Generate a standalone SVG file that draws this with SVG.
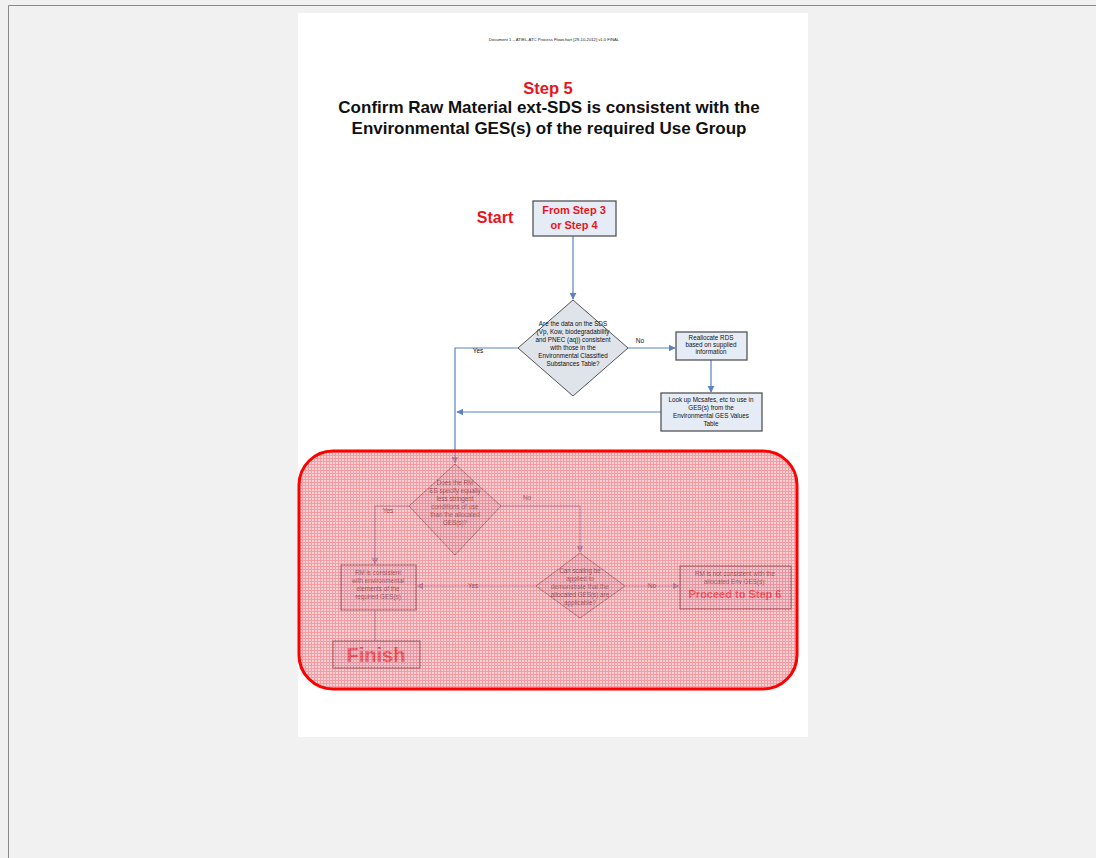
<svg xmlns="http://www.w3.org/2000/svg" width="1096" height="858" viewBox="0 0 1096 858">
<defs>
<style>
.t{font-family:"Liberation Sans",Arial,sans-serif;}
.sm{font-family:"Liberation Sans",Arial,sans-serif;font-size:6.3px;fill:#111;text-anchor:middle;}
.red{fill:#e8141e;font-weight:bold;text-anchor:middle;font-family:"Liberation Sans",Arial,sans-serif;}
.box{fill:#e6ecf5;stroke:#555;stroke-width:1.3;}
.dia{fill:#dfe3ea;stroke:#555;stroke-width:1;}
.con{fill:none;stroke:#5b82c0;stroke-width:1.2;}
.lbl{font-family:"Liberation Sans",Arial,sans-serif;font-size:6.5px;fill:#111;text-anchor:middle;}
</style>
<marker id="arr" viewBox="0 0 10 10" refX="9" refY="5" markerWidth="6" markerHeight="6" orient="auto-start-reverse">
<path d="M0,0 L10,5 L0,10 z" fill="#5b82c0"/>
</marker>
<pattern id="hatch" width="3" height="3" patternUnits="userSpaceOnUse">
<rect width="3" height="3" fill="#ee5a66"/>
<rect width="2" height="2" fill="#f7b4b9"/>
</pattern>
</defs>
<rect x="0" y="0" width="1096" height="858" fill="#f1f1f1"/>
<line x1="8.5" y1="5.5" x2="1096" y2="5.5" stroke="#8a8a8a" stroke-width="1"/>
<line x1="8.5" y1="5.5" x2="8.5" y2="858" stroke="#8a8a8a" stroke-width="1"/>
<rect x="298" y="13" width="510" height="724" fill="#ffffff"/>

<g id="header">
<text x="554" y="41" class="t" font-size="4.2" text-anchor="middle" fill="#222">Document 1 – ATIEL-ATC Process Flowchart [29-10-2012] v1.0 FINAL</text>
<text x="548" y="94" class="red" font-size="16.5">Step 5</text>
<text x="549" y="113" class="t" font-size="17" font-weight="bold" text-anchor="middle" fill="#111">Confirm Raw Material ext-SDS is consistent with the</text>
<text x="549" y="134" class="t" font-size="17" font-weight="bold" text-anchor="middle" fill="#111">Environmental GES(s) of the required Use Group</text>
</g>

<g id="start-label"><text x="495" y="223" class="red" font-size="16">Start</text></g>

<g id="connectors">
<path class="con" d="M573,236 V299" marker-end="url(#arr)"/>
<path class="con" d="M628,348 H675" marker-end="url(#arr)"/>
<path class="con" d="M711,360 V392" marker-end="url(#arr)"/>
<path class="con" d="M661,412 H457" marker-end="url(#arr)"/>
<path class="con" d="M518,348 H455 V463" marker-end="url(#arr)"/>
<path class="con" d="M501,506 H580 V552" marker-end="url(#arr)"/>
<path class="con" d="M409,506 H375 V564" marker-end="url(#arr)"/>
<path class="con" d="M536,586 H417" marker-end="url(#arr)"/>
<path class="con" d="M625,586 H679" marker-end="url(#arr)"/>
<path class="con" d="M375,610 V641"/>
<text x="640" y="343" class="lbl">No</text>
<text x="478" y="353" class="lbl">Yes</text>
<text x="527" y="500" class="lbl">No</text>
<text x="388" y="513" class="lbl">Yes</text>
<text x="473" y="588" class="lbl">Yes</text>
<text x="652" y="588" class="lbl">No</text>
</g>

<g id="from-step">
<rect class="box" x="533" y="201" width="83" height="35"/>
<text x="574" y="214" class="red" font-size="11">From Step 3</text>
<text x="574" y="229" class="red" font-size="11">or Step 4</text>
</g>

<g id="decision1">
<polygon class="dia" points="573,300 628,348 573,396 518,348"/>
<text class="sm" x="573" y="326">Are the data on the SDS</text>
<text class="sm" x="573" y="334">(Vp, Kow, biodegradability</text>
<text class="sm" x="573" y="342">and PNEC (aq)) consistent</text>
<text class="sm" x="573" y="350">with those in the</text>
<text class="sm" x="573" y="358">Environmental Classified</text>
<text class="sm" x="573" y="366">Substances Table?</text>
</g>

<g id="reallocate">
<rect class="box" x="676" y="332" width="71" height="28"/>
<text class="sm" x="711" y="340">Reallocate RDS</text>
<text class="sm" x="711" y="347">based on supplied</text>
<text class="sm" x="711" y="354">information</text>
</g>

<g id="lookup">
<rect class="box" x="661" y="393" width="101" height="38"/>
<text class="sm" x="711" y="402">Look up Mcsafes, etc to use in</text>
<text class="sm" x="711" y="410">GES(s) from the</text>
<text class="sm" x="711" y="418">Environmental GES Values</text>
<text class="sm" x="711" y="426">Table</text>
</g>

<g id="decision2">
<polygon class="dia" points="455,464 501,506 455,555 409,506"/>
<text class="sm" x="455" y="485">Does the RM</text>
<text class="sm" x="455" y="493">ES specify equally</text>
<text class="sm" x="455" y="501">less stringent</text>
<text class="sm" x="455" y="509">conditions of use</text>
<text class="sm" x="455" y="517">than the allocated</text>
<text class="sm" x="455" y="525">GES(s)?</text>
</g>

<g id="rm-consistent">
<rect class="box" x="341" y="565" width="75" height="45"/>
<text class="sm" x="378" y="575">RM is consistent</text>
<text class="sm" x="378" y="583">with environmental</text>
<text class="sm" x="378" y="591">elements of the</text>
<text class="sm" x="378" y="599">required GES(s)</text>
</g>

<g id="decision3">
<polygon class="dia" points="580,553 625,586 580,618 536,586"/>
<text class="sm" x="580" y="573">Can scaling be</text>
<text class="sm" x="580" y="581">applied to</text>
<text class="sm" x="580" y="589">demonstrate that the</text>
<text class="sm" x="580" y="597">allocated GES(s) are</text>
<text class="sm" x="580" y="605">applicable?</text>
</g>

<g id="not-consistent">
<rect class="box" x="680" y="566" width="111" height="43"/>
<text class="sm" x="735" y="576">RM is not consistent with the</text>
<text class="sm" x="735" y="584">allocated Env GES(s):</text>
<text class="red" x="735" y="598" font-size="11">Proceed to Step 6</text>
</g>

<g id="finish">
<rect class="box" x="333" y="641" width="87" height="27"/>
<text class="red" x="376" y="662" font-size="20">Finish</text>
</g>

<g id="highlight">
<rect x="299" y="451" width="498" height="238" rx="34" ry="34" fill="url(#hatch)" fill-opacity="0.6" stroke="#ff0000" stroke-width="3"/>
</g>
</svg>
